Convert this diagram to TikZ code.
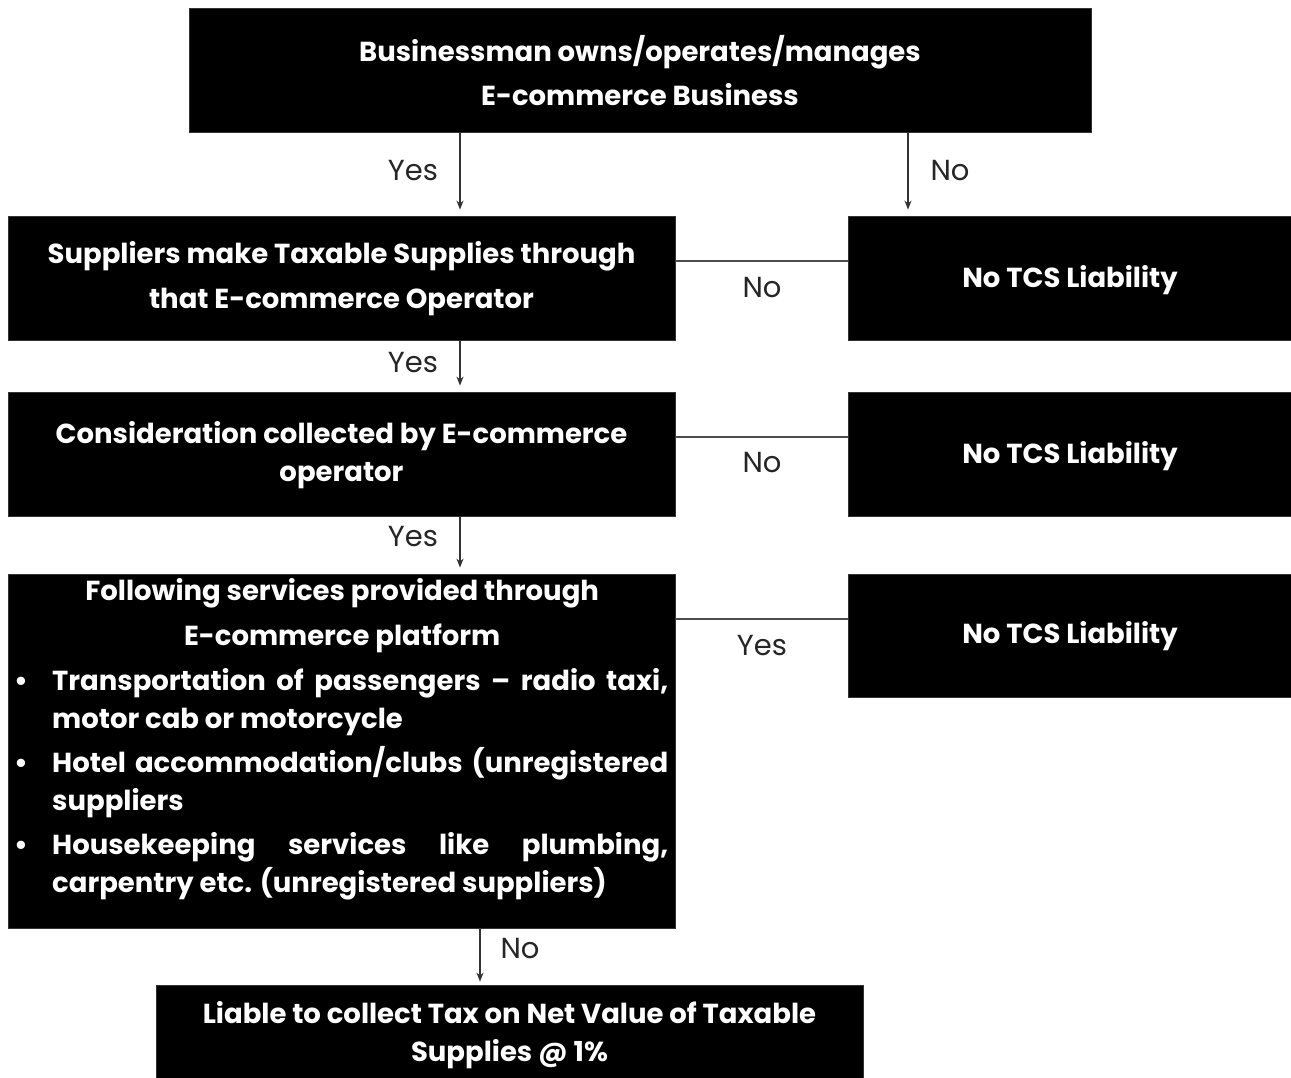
\documentclass[tikz,border=0pt]{standalone}
\usepackage{fontspec}
\setmainfont{Poppins}
\usetikzlibrary{arrows.meta}
\begin{document}
\begin{tikzpicture}[x=1pt,y=-1pt,
  box/.style={fill=black,draw=black!80,line width=0.8pt,inner sep=0pt,text=white,align=center},
  btext/.style={text=white,inner sep=0pt,align=center,font=\bfseries\fontsize{27.5}{44}\selectfont},
  lab/.style={inner sep=0pt,font=\fontsize{29}{32}\selectfont,text=black!85},
  arr/.style={draw=black!80,line width=1.4pt,-{Stealth[length=9pt,width=7pt]},shorten >=6pt},
  conn/.style={draw=black!70,line width=1.4pt}]
\useasboundingbox[fill=white] (0,0) rectangle (1291,1078);
% boxes
\node[box,minimum width=902,minimum height=124] (b1) at (640,70) {};
\node[btext,font=\bfseries\fontsize{27.5}{44}\selectfont] (t1) at (640,71) {Businessman owns/operates/manages\\E-commerce Business};
\node[box,minimum width=667,minimum height=124] (b2) at (341.5,278) {};
\node[btext,font=\bfseries\fontsize{27.5}{45}\selectfont] (t2) at (341.5,278.5) {Suppliers make Taxable Supplies through\\that E-commerce Operator};
\node[box,minimum width=667,minimum height=124] (b3) at (341.5,454) {};
\node[btext,font=\bfseries\fontsize{27.5}{38}\selectfont] (t3) at (341.5,455) {Consideration collected by E-commerce\\operator};
\node[box,minimum width=667,minimum height=354] (b4) at (341.5,751) {};
\node[box,minimum width=707,minimum height=93] (b5) at (509.5,1031.5) {};
\node[btext,font=\bfseries\fontsize{27.5}{38}\selectfont] (t5) at (509.5,1035) {Liable to collect Tax on Net Value of Taxable\\Supplies @ 1\%};
\node[box,minimum width=443,minimum height=124] (r1) at (1069.5,278) {};
\node[btext] (rt1) at (1070,280) {No TCS Liability};
\node[box,minimum width=443,minimum height=124] (r2) at (1069.5,454) {};
\node[btext] (rt2) at (1070,456) {No TCS Liability};
\node[box,minimum width=443,minimum height=123] (r3) at (1069.5,635.5) {};
\node[btext] (rt3) at (1070,636) {No TCS Liability};
% list box text
\node[text=white,inner sep=0pt,anchor=north west] (t4) at (14,578) {\parbox{656pt}{\bfseries\fontsize{27.5}{38}\selectfont
  {\centering Following services provided through\\[7pt] E-commerce platform\par}
  \vspace{7pt}\noindent\makebox[38pt][l]{\textbullet}\makebox[616pt][s]{Transportation of passengers -- radio taxi,}\\
  \hspace*{38pt}motor cab or motorcycle\par
  \vspace{6pt}\noindent\makebox[38pt][l]{\textbullet}\makebox[616pt][s]{Hotel accommodation/clubs (unregistered}\\
  \hspace*{38pt}suppliers\par
  \vspace{6pt}\noindent\makebox[38pt][l]{\textbullet}\makebox[616pt][s]{Housekeeping services like plumbing,}\\
  \hspace*{38pt}carpentry etc. (unregistered suppliers)\par}};
% x/y reference coordinates
\coordinate (xa) at (460,0);
\coordinate (xb) at (908,0);
\coordinate (xc) at (480,0);
\coordinate (ya) at (0,261);
\coordinate (yb) at (0,437);
\coordinate (yc) at (0,619);
% connectors
\draw[arr] (b1.south -| xa) -- (b2.north -| xa);
\draw[arr] (b1.south -| xb) -- (r1.north -| xb);
\draw[arr] (b2.south -| xa) -- (b3.north -| xa);
\draw[arr] (b3.south -| xa) -- (b4.north -| xa);
\draw[arr,shorten >=3pt] (b4.south -| xc) -- (b5.north -| xc);
\draw[conn] (b2.east |- ya) -- (r1.west |- ya);
\draw[conn] (b3.east |- yb) -- (r2.west |- yb);
\draw[conn] (b4.east |- yc) -- (r3.west |- yc);
% labels
\node[lab] (l1) at (413,171) {Yes};
\node[lab] (l2) at (950,171) {No};
\node[lab] (l3) at (762,288) {No};
\node[lab] (l4) at (413,363) {Yes};
\node[lab] (l5) at (762,463) {No};
\node[lab] (l6) at (413,537) {Yes};
\node[lab] (l7) at (762,646) {Yes};
\node[lab] (l8) at (520,949) {No};
\end{tikzpicture}
\end{document}
